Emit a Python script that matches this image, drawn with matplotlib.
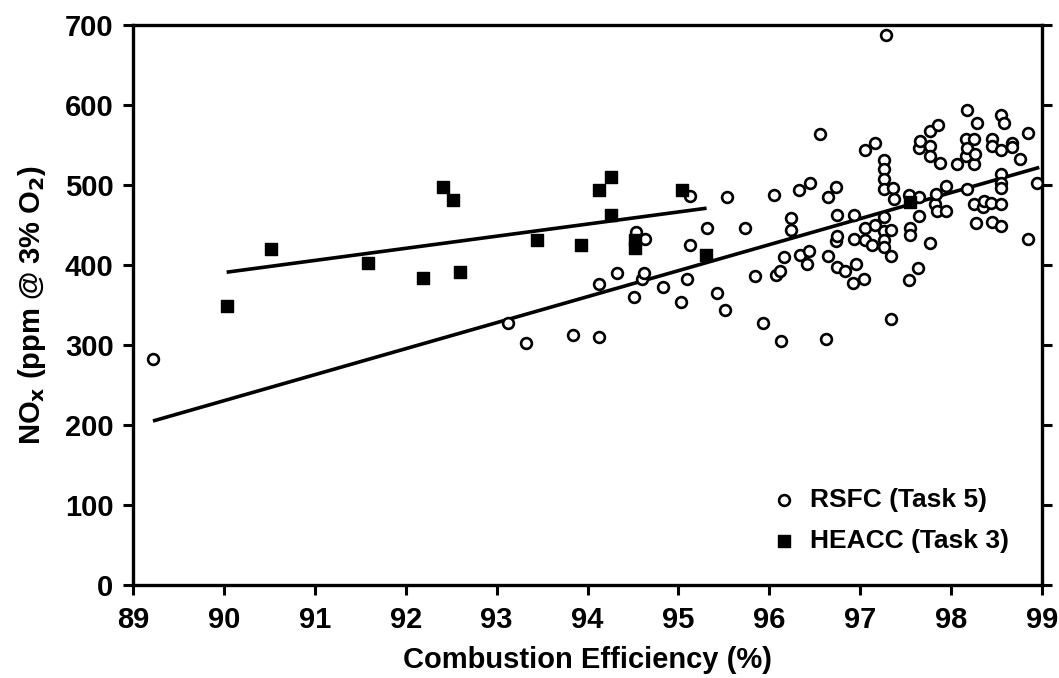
import matplotlib
matplotlib.use('Agg')
import matplotlib.pyplot as plt

fontaxes = {'family': 'Liberation Sans', 'weight': 'bold', 'size': 21}

# RSFC (Task 5) points, open circles
rsfc_x = [89.22, 93.12, 93.32, 93.84, 94.13, 94.13, 94.32, 94.51, 94.53, 94.60,
          94.62, 94.63, 94.83, 95.03, 95.10, 95.13, 95.13, 95.31, 95.42, 95.51,
          95.54, 95.73, 95.84, 95.93, 96.05, 96.07, 96.12, 96.13, 96.16, 96.24,
          96.24, 96.33, 96.34, 96.41, 96.44, 96.45, 96.56, 96.62, 96.65, 96.65,
          96.73, 96.73, 96.74, 96.75, 96.75, 96.83, 96.92, 96.93, 96.93, 96.95,
          97.04, 97.05, 97.05, 97.05, 97.13, 97.16, 97.16, 97.26, 97.26, 97.26,
          97.26, 97.26, 97.26, 97.26, 97.26, 97.28, 97.34, 97.34, 97.34, 97.36,
          97.37, 97.54, 97.54, 97.55, 97.55, 97.64, 97.65, 97.65, 97.65, 97.66,
          97.77, 97.77, 97.77, 97.77, 97.82, 97.83, 97.84, 97.86, 97.88, 97.94,
          97.94, 98.06, 98.16, 98.16, 98.17, 98.17, 98.18, 98.25, 98.25, 98.25,
          98.26, 98.27, 98.28, 98.35, 98.36, 98.44, 98.45, 98.45, 98.45, 98.55,
          98.55, 98.55, 98.55, 98.55, 98.55, 98.55, 98.58, 98.67, 98.67, 98.76,
          98.85, 98.85, 98.94]
rsfc_y = [283, 328, 303, 313, 376, 310, 390, 360, 441, 383,
          390, 433, 373, 354, 383, 486, 425, 446, 365, 344,
          485, 446, 386, 328, 488, 387, 392, 305, 410, 459,
          444, 494, 412, 401, 418, 503, 564, 307, 485, 411,
          497, 430, 398, 462, 436, 392, 378, 462, 433, 401,
          383, 544, 446, 431, 425, 552, 450, 531, 520, 507,
          495, 460, 442, 431, 423, 688, 444, 411, 333, 496,
          482, 487, 381, 446, 437, 396, 485, 461, 546, 555,
          549, 536, 567, 428, 476, 489, 467, 575, 528, 499,
          467, 526, 557, 536, 594, 546, 495, 557, 526, 476,
          539, 452, 578, 472, 480, 478, 557, 549, 454, 476,
          449, 514, 502, 496, 544, 588, 578, 552, 547, 533,
          565, 433, 502]

# HEACC (Task 3) points, filled squares
heacc_x = [90.03, 90.52, 91.59, 92.19, 92.41, 92.52, 92.60, 93.44, 93.93, 94.13,
           94.26, 94.26, 94.52, 94.52, 95.04, 95.30, 97.55]
heacc_y = [349, 420, 402, 384, 497, 481, 391, 431, 425, 494,
           510, 462, 431, 421, 494, 412, 479]

# fitted lines (end points)
rsfc_fit_x = [89.22, 98.97]
rsfc_fit_y = [205, 522]
heacc_fit_x = [90.03, 95.31]
heacc_fit_y = [391, 471]

fig = plt.figure(figsize=(10.59, 6.78), dpi=100, facecolor='w')
ax = fig.add_axes([133/1059, 93/678, 909/1059, 560/678])

ax.plot(rsfc_fit_x, rsfc_fit_y, color='black', lw=2.6, solid_capstyle='butt')
ax.plot(heacc_fit_x, heacc_fit_y, color='black', lw=2.6, solid_capstyle='butt')
ax.scatter(rsfc_x, rsfc_y, s=60, facecolors='white', edgecolors='black',
           linewidths=1.9, zorder=3, label='RSFC (Task 5)')
ax.scatter(heacc_x, heacc_y, s=70, marker='s', color='black', zorder=4,
           label='HEACC (Task 3)')

ax.set_xlim(89, 99)
ax.set_ylim(0, 700)
ax.set_xticks(range(89, 100))
ax.set_yticks(range(0, 701, 100))

for sp in ax.spines.values():
    sp.set_linewidth(2.4)

ax.tick_params(axis='both', direction='out', length=7, width=2.2, labelsize=21)
ax.tick_params(axis='y', right=True, pad=7)
ax.tick_params(axis='x', pad=8)
for lab in ax.get_xticklabels() + ax.get_yticklabels():
    lab.set_fontfamily('Liberation Sans')
    lab.set_fontweight('bold')

ax.set_xlabel("Combustion Efficiency (%)", fontdict=fontaxes, labelpad=9)
ax.set_ylabel("NO$_\\mathbf{x}$ (ppm @ 3% O$_\\mathbf{2}$)", fontdict=fontaxes, labelpad=12)

leg = ax.legend(loc='lower right', bbox_to_anchor=(0.99, 0.015), frameon=False,
                prop={'family': 'Liberation Sans', 'weight': 'bold', 'size': 19},
                handletextpad=0.5, labelspacing=0.65, handlelength=1.0)

plt.savefig('out.png', dpi=100)
